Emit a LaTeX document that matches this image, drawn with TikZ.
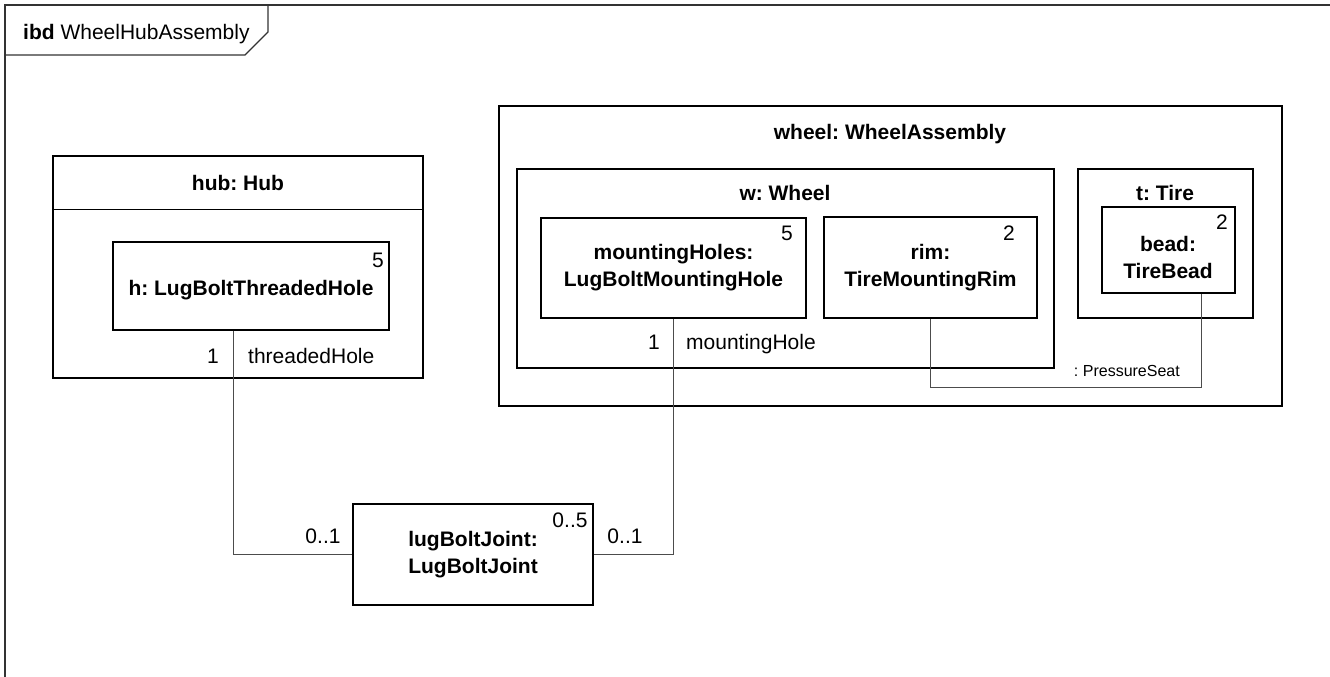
\documentclass[tikz,border=0pt]{standalone}
\usepackage{fontspec}
\setmainfont{Liberation Sans}
\frenchspacing
\begin{document}
\begin{tikzpicture}[x=1pt,y=-1pt,
  box/.style={draw=black,line width=1.2pt,inner sep=0pt,align=center,font=\bfseries\fontsize{21}{27}\selectfont},
  boxtext/.style={inner sep=0pt,align=center,font=\bfseries\fontsize{21}{27}\selectfont},
  lbl/.style={inner sep=0pt,font=\fontsize{21}{25}\selectfont,text depth=0pt},
  ttl/.style={inner sep=0pt,font=\bfseries\fontsize{21}{25}\selectfont,text depth=0pt},
  small/.style={inner sep=0pt,font=\fontsize{16}{19}\selectfont,text depth=0pt},
  conn/.style={draw=black!70,line width=1pt},
  frameline/.style={draw=black!80,line width=1.3pt}]
\useasboundingbox (0,0) rectangle (1330,677);
\fill[white] (0,0) rectangle (1330,677);
% frame
\draw[frameline] (5,700) -- (5,5) -- (1340,5);
\draw[frameline] (5,55) -- (245,55) -- (268,32) -- (268,5);
\node[lbl,anchor=west] (frametitle) at (23,32) {\textbf{ibd} WheelHubAssembly};
% hub
\node[box,minimum width=370pt,minimum height=222pt] (hub) at (238,267) {};
\draw[line width=1.2pt] ([yshift=-54pt]hub.north west) -- ([yshift=-54pt]hub.north east);
\node[ttl] (hubt) at (238,183) {hub: Hub};
\node[box,minimum width=276pt,minimum height=88pt] (h) at (251,286) {};
\node[ttl] (ht) at (251,288) {h: LugBoltThreadedHole};
\node[lbl] (hm) at (378,260) {5};
\node[lbl] (hone) at (213,356) {1};
\node[lbl,anchor=west] (hrole) at (248,356) {threadedHole};
% wheel assembly
\node[box,minimum width=783pt,minimum height=300pt] (wa) at (890.5,256) {};
\node[ttl] (wat) at (890,132) {wheel: WheelAssembly};
\node[box,minimum width=537pt,minimum height=199pt] (w) at (785.5,268.5) {};
\node[ttl] (wt) at (785,193) {w: Wheel};
\node[box,minimum width=265pt,minimum height=100pt] (mh) at (673.5,268) {mountingHoles:\\LugBoltMountingHole};
\node[lbl] (mhm) at (787,233) {5};
\node[box,minimum width=213pt,minimum height=101pt] (rim) at (930.5,267.5) {rim:\\TireMountingRim};
\node[lbl] (rimm) at (1009,233) {2};
\node[box,minimum width=175pt,minimum height=149pt] (tire) at (1165.5,243.5) {};
\node[ttl] (tiret) at (1165,193) {t: Tire};
\node[box,minimum width=133pt,minimum height=86pt] (bead) at (1168.5,250) {};
\node[boxtext] (beadt) at (1168,257) {bead:\\TireBead};
\node[lbl] (beadm) at (1222,222) {2};
\node[lbl] (mhone) at (654,342) {1};
\node[lbl,anchor=west] (mhrole) at (686,342) {mountingHole};
% joint
\node[box,minimum width=240pt,minimum height=101pt] (joint) at (473,554.5) {lugBoltJoint:\\LugBoltJoint};
\node[lbl] (jm) at (570,520) {0..5};
\node[lbl] (jl) at (323,536) {0..1};
\node[lbl] (jr) at (625,536) {0..1};
% connectors
\draw[conn] ([xshift=-18pt]h.south) |- (joint.west);
\draw[conn] (mh.south) |- (joint.east);
\coordinate (psc) at (1201,387);
\draw[conn] (rim.south) |- (psc) -- (bead.south -| psc);
\node[small,anchor=east] (psl) at (1180,371) {: PressureSeat};
\end{tikzpicture}
\end{document}
